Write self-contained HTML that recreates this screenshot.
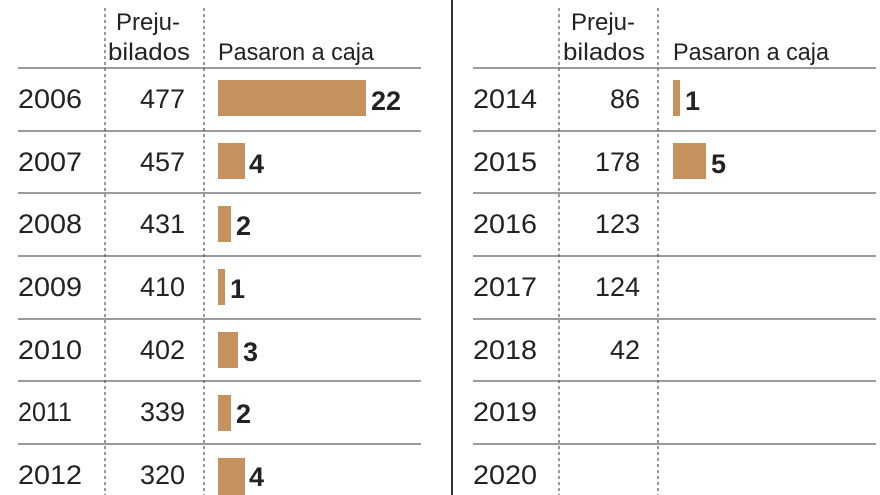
<!DOCTYPE html>
<html><head><meta charset="utf-8"><style>
html,body{margin:0;padding:0;background:#fff;}
svg{display:block}
text{font-family:"Liberation Sans",sans-serif;fill:#222;}
</style></head><body>
<svg width="880" height="495" viewBox="0 0 880 495">
<g stroke="#7a7a7a" stroke-width="1.5">
<line x1="18" y1="68" x2="421" y2="68"/><line x1="18" y1="131" x2="421" y2="131"/><line x1="18" y1="193" x2="421" y2="193"/><line x1="18" y1="256" x2="421" y2="256"/><line x1="18" y1="319" x2="421" y2="319"/><line x1="18" y1="381" x2="421" y2="381"/><line x1="18" y1="444" x2="421" y2="444"/>
<line x1="473" y1="68" x2="876" y2="68"/><line x1="473" y1="131" x2="876" y2="131"/><line x1="473" y1="193" x2="876" y2="193"/><line x1="473" y1="256" x2="876" y2="256"/><line x1="473" y1="319" x2="876" y2="319"/><line x1="473" y1="381" x2="876" y2="381"/><line x1="473" y1="444" x2="876" y2="444"/>
</g>
<line x1="452" y1="0" x2="452" y2="495" stroke="#333" stroke-width="2"/>
<g stroke="#555" stroke-width="1.2" stroke-dasharray="3,3">
<line x1="105" y1="8" x2="105" y2="495"/><line x1="204" y1="8" x2="204" y2="495"/>
<line x1="559" y1="8" x2="559" y2="495"/><line x1="658" y1="8" x2="658" y2="495"/>
</g>
<g font-size="24">
<text x="148" y="30" text-anchor="middle">Preju-</text>
<text x="149" y="60" text-anchor="middle" textLength="82" lengthAdjust="spacingAndGlyphs">bilados</text>
<text x="218" y="60" textLength="156" lengthAdjust="spacingAndGlyphs">Pasaron a caja</text>
<text x="603" y="30" text-anchor="middle">Preju-</text>
<text x="604" y="60" text-anchor="middle" textLength="82" lengthAdjust="spacingAndGlyphs">bilados</text>
<text x="673" y="60" textLength="156" lengthAdjust="spacingAndGlyphs">Pasaron a caja</text>
</g>
<g fill="#c4915f">
<rect x="218" y="80" width="148" height="36"/>
<rect x="218" y="143" width="27" height="36"/>
<rect x="218" y="206" width="13" height="36"/>
<rect x="218" y="269" width="7" height="36"/>
<rect x="218" y="332" width="20" height="36"/>
<rect x="218" y="395" width="13" height="36"/>
<rect x="218" y="458" width="27" height="37"/>
<rect x="673" y="80" width="7" height="36"/>
<rect x="673" y="143" width="33" height="36"/>
</g>
<g font-size="27">
<text x="18" y="108" textLength="64" lengthAdjust="spacingAndGlyphs">2006</text>
<text x="18" y="171" textLength="64" lengthAdjust="spacingAndGlyphs">2007</text>
<text x="18" y="233" textLength="64" lengthAdjust="spacingAndGlyphs">2008</text>
<text x="18" y="296" textLength="64" lengthAdjust="spacingAndGlyphs">2009</text>
<text x="18" y="359" textLength="64" lengthAdjust="spacingAndGlyphs">2010</text>
<text x="18" y="421" textLength="54" lengthAdjust="spacingAndGlyphs">2011</text>
<text x="18" y="484" textLength="64" lengthAdjust="spacingAndGlyphs">2012</text>
<text x="473" y="108" textLength="64" lengthAdjust="spacingAndGlyphs">2014</text>
<text x="473" y="171" textLength="64" lengthAdjust="spacingAndGlyphs">2015</text>
<text x="473" y="233" textLength="64" lengthAdjust="spacingAndGlyphs">2016</text>
<text x="473" y="296" textLength="64" lengthAdjust="spacingAndGlyphs">2017</text>
<text x="473" y="359" textLength="64" lengthAdjust="spacingAndGlyphs">2018</text>
<text x="473" y="421" textLength="64" lengthAdjust="spacingAndGlyphs">2019</text>
<text x="473" y="484" textLength="64" lengthAdjust="spacingAndGlyphs">2020</text>
</g>
<g font-size="27" text-anchor="end">
<text x="185" y="108">477</text><text x="185" y="171">457</text><text x="185" y="233">431</text><text x="185" y="296">410</text><text x="185" y="359">402</text><text x="185" y="421">339</text><text x="185" y="484">320</text>
<text x="640" y="108">86</text><text x="640" y="171">178</text><text x="640" y="233">123</text><text x="640" y="296">124</text><text x="640" y="359">42</text>
</g>
<g font-size="27" font-weight="bold">
<text x="371" y="110">22</text><text x="249" y="173">4</text><text x="236" y="235">2</text><text x="230" y="298">1</text><text x="243" y="361">3</text><text x="236" y="423">2</text><text x="249" y="486">4</text>
<text x="685" y="110">1</text><text x="711" y="173">5</text>
</g>
</svg>
</body></html>
